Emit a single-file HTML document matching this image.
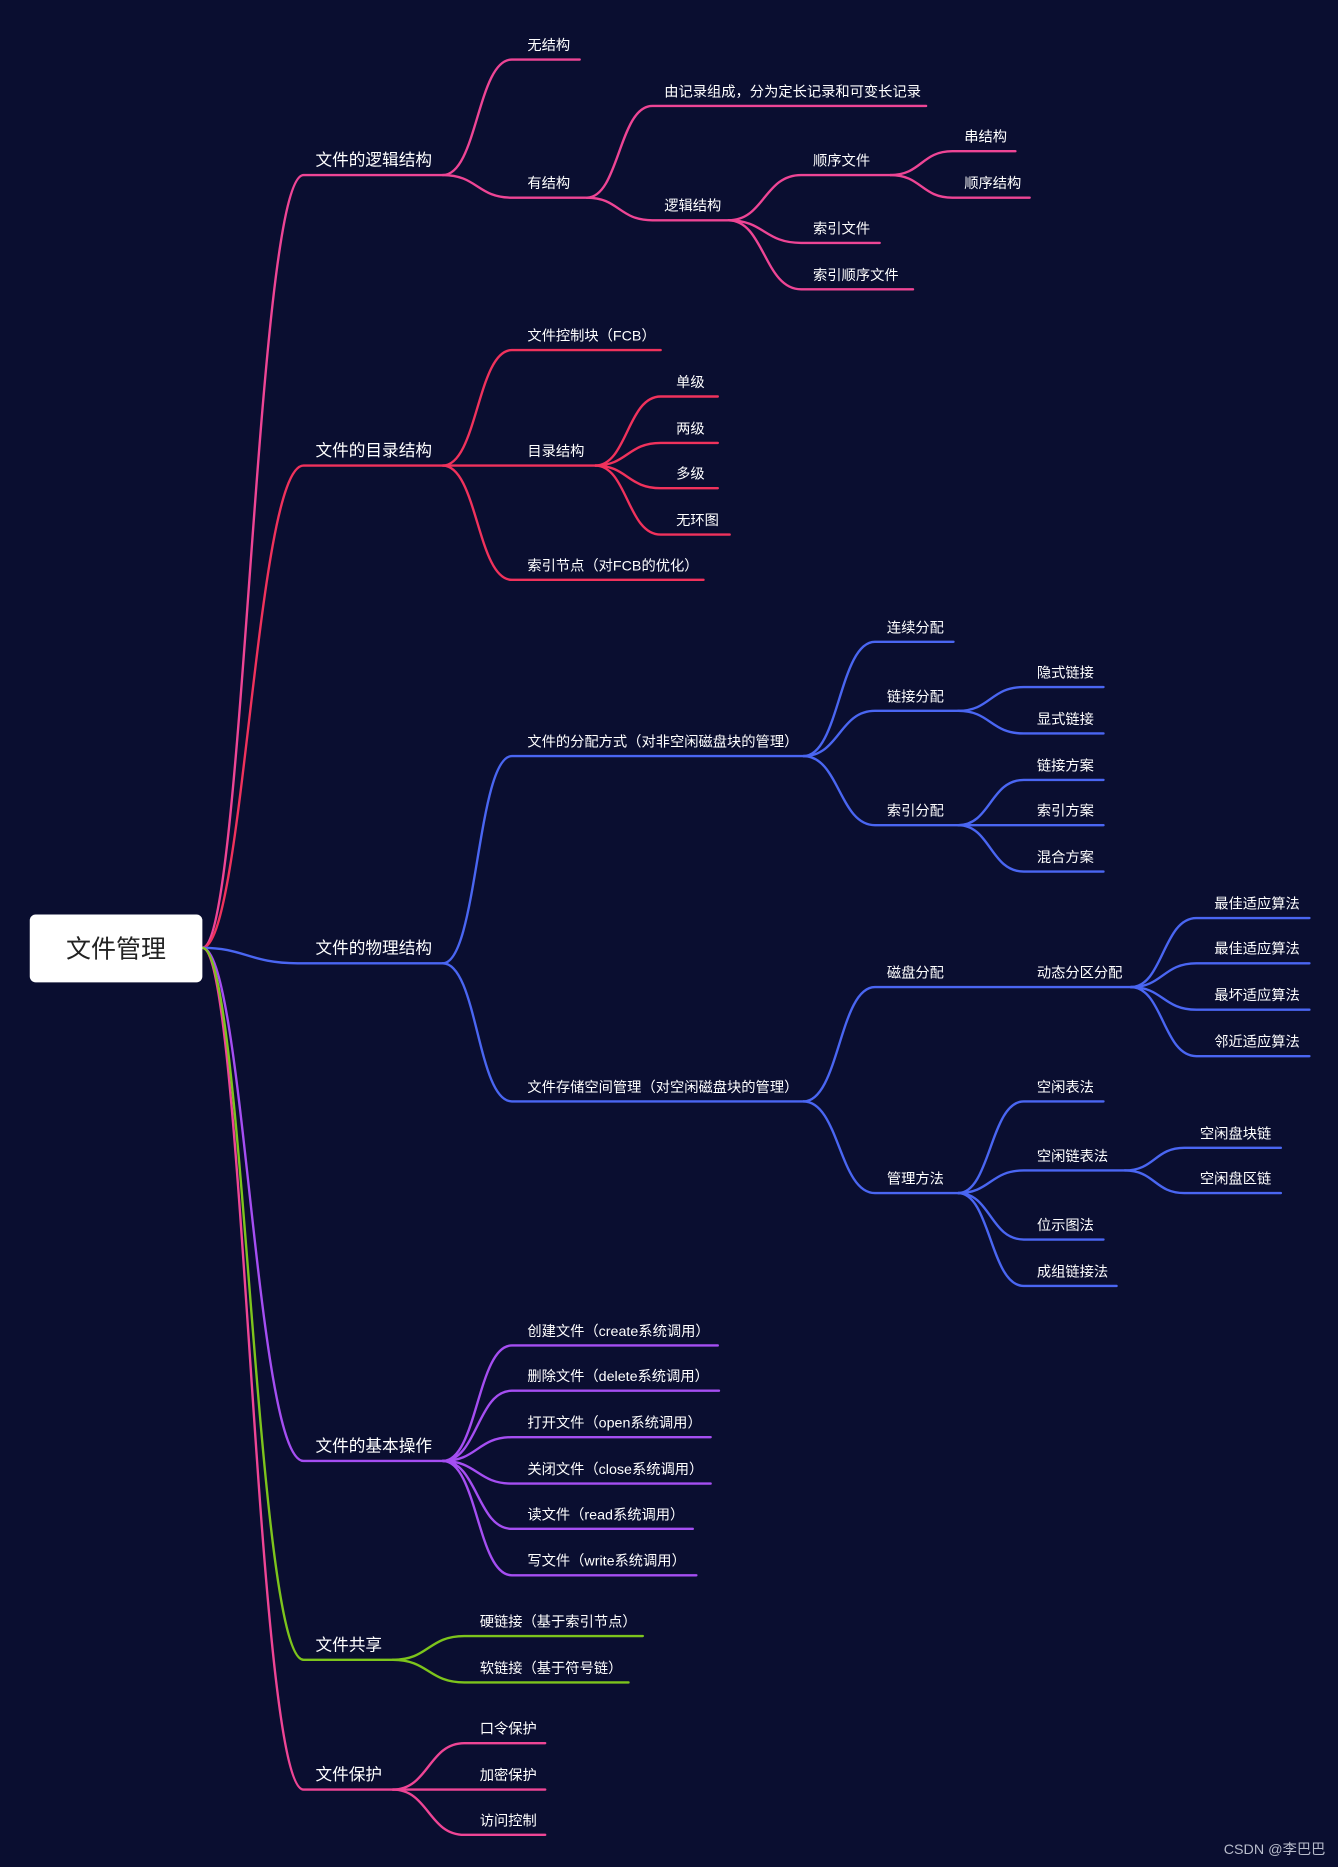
<!DOCTYPE html>
<html><head><meta charset="utf-8"><style>
html,body{margin:0;padding:0;background:#0a0e30;}
svg{display:block}
text{font-family:"Liberation Sans","Noto Sans CJK SC",sans-serif;fill:#fff;font-size:12px;}
.l1{font-size:14px}
path{fill:none;stroke-width:2;stroke-linecap:round}
.g1{stroke:#ee4595}.g2{stroke:#f0325c}.g3{stroke:#4a66f2}.g4{stroke:#a54ef2}.g5{stroke:#7dc41c}
</style></head><body>
<svg width="1338" height="1867" viewBox="0 0 1124 1568" preserveAspectRatio="none" xmlns="http://www.w3.org/2000/svg">
<rect width="1124" height="1568" fill="#0a0e30"/>
<!-- group1 -->
<g class="g1">
<path d="M170,796 C205,796 215,147 255,147 H372"/>
<path d="M372,147 C401,147 401,50 430,50 H487"/>
<path d="M372,147 C401,147 401,166 430,166 H493"/>
<path d="M493,166 C520,166 520,89 548,89 H778"/>
<path d="M493,166 C520,166 520,185 548,185 H612"/>
<path d="M612,185 C642,185 642,147 673,147 H748"/>
<path d="M612,185 C642,185 642,204 673,204 H739"/>
<path d="M612,185 C642,185 642,243 673,243 H767"/>
<path d="M748,147 C774,147 774,127 800,127 H853"/>
<path d="M748,147 C774,147 774,166 800,166 H865"/>
<path d="M170,796 C205,796 215,1503 255,1503 H330"/>
<path d="M330,1503 C360,1503 360,1464 390,1464 H458"/>
<path d="M330,1503 C360,1503 360,1503 390,1503 H458"/>
<path d="M330,1503 C360,1503 360,1541 390,1541 H458"/>
</g>
<g class="g2">
<path d="M170,796 C205,796 215,391 255,391 H372"/>
<path d="M372,391 C401,391 401,294 430,294 H555"/>
<path d="M372,391 C401,391 401,391 430,391 H500"/>
<path d="M372,391 C401,391 401,487 430,487 H591"/>
<path d="M500,391 C527,391 527,333 555,333 H603"/>
<path d="M500,391 C527,391 527,372 555,372 H603"/>
<path d="M500,391 C527,391 527,410 555,410 H603"/>
<path d="M500,391 C527,391 527,449 555,449 H613"/>
</g>
<g class="g3">
<path d="M170,796 C205,796 210,809 250,809 H372"/>
<path d="M372,809 C401,809 401,635 430,635 H675"/>
<path d="M372,809 C401,809 401,925 430,925 H675"/>
<path d="M675,635 C705,635 705,539 735,539 H801"/>
<path d="M675,635 C705,635 705,597 735,597 H805"/>
<path d="M675,635 C705,635 705,693 735,693 H805"/>
<path d="M805,597 C832,597 832,577 860,577 H927"/>
<path d="M805,597 C832,597 832,616 860,616 H927"/>
<path d="M805,693 C832,693 832,655 860,655 H927"/>
<path d="M805,693 C832,693 832,693 860,693 H927"/>
<path d="M805,693 C832,693 832,732 860,732 H927"/>
<path d="M675,925 C705,925 705,829 735,829 H950"/>
<path d="M675,925 C705,925 705,1002 735,1002 H805"/>
<path d="M950,829 C977,829 977,771 1005,771 H1100"/>
<path d="M950,829 C977,829 977,809 1005,809 H1100"/>
<path d="M950,829 C977,829 977,848 1005,848 H1100"/>
<path d="M950,829 C977,829 977,887 1005,887 H1100"/>
<path d="M805,1002 C832,1002 832,925 860,925 H927"/>
<path d="M805,1002 C832,1002 832,983 860,983 H945"/>
<path d="M805,1002 C832,1002 832,1041 860,1041 H927"/>
<path d="M805,1002 C832,1002 832,1080 860,1080 H938"/>
<path d="M945,983 C970,983 970,964 995,964 H1076"/>
<path d="M945,983 C970,983 970,1002 995,1002 H1076"/>
</g>
<g class="g4">
<path d="M170,796 C205,796 215,1227 255,1227 H372"/>
<path d="M372,1227 C401,1227 401,1130 430,1130 H603"/>
<path d="M372,1227 C401,1227 401,1168 430,1168 H604"/>
<path d="M372,1227 C401,1227 401,1207 430,1207 H597"/>
<path d="M372,1227 C401,1227 401,1246 430,1246 H597"/>
<path d="M372,1227 C401,1227 401,1284 430,1284 H582"/>
<path d="M372,1227 C401,1227 401,1323 430,1323 H585"/>
</g>
<g class="g5">
<path d="M170,796 C205,796 215,1394 255,1394 H330"/>
<path d="M330,1394 C360,1394 360,1374 390,1374 H540"/>
<path d="M330,1394 C360,1394 360,1413 390,1413 H528"/>
</g>
<!-- root -->
<rect x="25" y="768" width="145" height="57" rx="5" fill="#fff"/>
<text x="97.5" y="804" text-anchor="middle" style="fill:#222;font-size:21px">文件管理</text>
<!-- labels -->
<text class="l1" x="265" y="139">文件的逻辑结构</text>
<text x="443" y="42">无结构</text>
<text x="443" y="158">有结构</text>
<text x="558" y="81">由记录组成，分为定长记录和可变长记录</text>
<text x="558" y="177">逻辑结构</text>
<text x="683" y="139">顺序文件</text>
<text x="683" y="196">索引文件</text>
<text x="683" y="235">索引顺序文件</text>
<text x="810" y="119">串结构</text>
<text x="810" y="158">顺序结构</text>
<text class="l1" x="265" y="383">文件的目录结构</text>
<text x="443" y="286">文件控制块（FCB）</text>
<text x="443" y="383">目录结构</text>
<text x="443" y="479">索引节点（对FCB的优化）</text>
<text x="568" y="325">单级</text>
<text x="568" y="364">两级</text>
<text x="568" y="402">多级</text>
<text x="568" y="441">无环图</text>
<text class="l1" x="265" y="801">文件的物理结构</text>
<text x="443" y="627">文件的分配方式（对非空闲磁盘块的管理）</text>
<text x="443" y="917">文件存储空间管理（对空闲磁盘块的管理）</text>
<text x="745" y="531">连续分配</text>
<text x="745" y="589">链接分配</text>
<text x="745" y="685">索引分配</text>
<text x="871" y="569">隐式链接</text>
<text x="871" y="608">显式链接</text>
<text x="871" y="647">链接方案</text>
<text x="871" y="685">索引方案</text>
<text x="871" y="724">混合方案</text>
<text x="745" y="821">磁盘分配</text>
<text x="871" y="821">动态分区分配</text>
<text x="1020" y="763">最佳适应算法</text>
<text x="1020" y="801">最佳适应算法</text>
<text x="1020" y="840">最坏适应算法</text>
<text x="1020" y="879">邻近适应算法</text>
<text x="745" y="994">管理方法</text>
<text x="871" y="917">空闲表法</text>
<text x="871" y="975">空闲链表法</text>
<text x="871" y="1033">位示图法</text>
<text x="871" y="1072">成组链接法</text>
<text x="1008" y="956">空闲盘块链</text>
<text x="1008" y="994">空闲盘区链</text>
<text class="l1" x="265" y="1219">文件的基本操作</text>
<text x="443" y="1122">创建文件（create系统调用）</text>
<text x="443" y="1160">删除文件（delete系统调用）</text>
<text x="443" y="1199">打开文件（open系统调用）</text>
<text x="443" y="1238">关闭文件（close系统调用）</text>
<text x="443" y="1276">读文件（read系统调用）</text>
<text x="443" y="1315">写文件（write系统调用）</text>
<text class="l1" x="265" y="1386">文件共享</text>
<text x="403" y="1366">硬链接（基于索引节点）</text>
<text x="403" y="1405">软链接（基于符号链）</text>
<text class="l1" x="265" y="1495">文件保护</text>
<text x="403" y="1456">口令保护</text>
<text x="403" y="1495">加密保护</text>
<text x="403" y="1533">访问控制</text>
<text x="1028" y="1557" style="fill:#b8bccb;font-size:12px">CSDN @李巴巴</text>
</svg>
</body></html>
